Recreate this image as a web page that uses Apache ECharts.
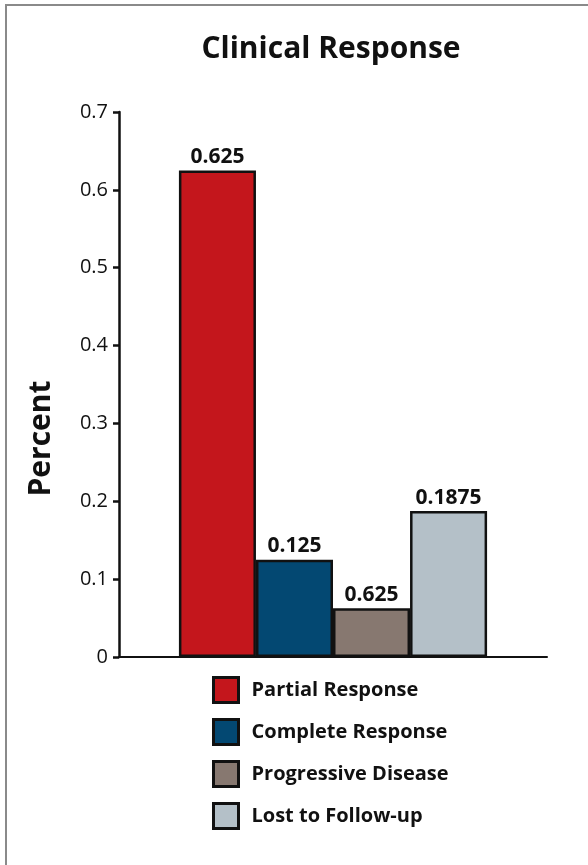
<!DOCTYPE html>
<html>
<head>
<meta charset="utf-8">
<script src="https://cdn.jsdelivr.net/npm/echarts@6/dist/echarts.min.js"></script>
<style>
  html, body { margin: 0; padding: 0; background: #fff; }
  #frame { position: absolute; left: 5px; top: 4px; width: 583px; height: 861px;
           border-left: 2px solid #8a8a8a; border-top: 2px solid #8a8a8a; box-sizing: border-box; }
  #chart { position: absolute; left: 0; top: 0; width: 588px; height: 865px; }
</style>
</head>
<body>
<div id="frame"></div>
<div id="chart"></div>
<script>
// Response categories, shares and the text printed above each bar
const categories = ['Partial Response', 'Complete Response', 'Progressive Disease', 'Lost to Follow-up'];
const values = [0.625, 0.125, 0.0625, 0.1875];
const valueLabels = ['0.625', '0.125', '0.625', '0.1875'];
const colors = ['#C4161C', '#034872', '#877870', '#B4C0C8'];
const yTicks = { min: 0, max: 0.7, interval: 0.1 };

const FONT = '"Open Sans", "Noto Sans", sans-serif';

const chart = echarts.init(document.getElementById('chart'), null, { renderer: 'canvas' });

const series = categories.map((name, i) => ({
  name: name,
  type: 'bar',
  data: [values[i]],
  barGap: '0%',
  barCategoryGap: '28%',
  itemStyle: { color: colors[i], borderColor: '#111', borderWidth: 2.5 },
  label: {
    show: true,
    position: 'top',
    distance: 3,
    formatter: () => valueLabels[i],
    color: '#111',
    fontFamily: FONT,
    fontWeight: 'bold',
    fontSize: 21
  },
  emphasis: { disabled: true },
  animation: false
}));

chart.setOption({
  backgroundColor: 'transparent',
  animation: false,
  title: {
    text: 'Clinical Response',
    left: 326,
    textAlign: 'center',
    top: 29,
    textStyle: { fontFamily: FONT, fontWeight: 'bold', fontSize: 30, color: '#111' }
  },
  legend: {
    orient: 'vertical',
    left: 207,
    top: 671,
    itemWidth: 25,
    itemHeight: 25,
    itemGap: 14,
    icon: 'rect',
    itemStyle: { borderColor: '#111', borderWidth: 3 },
    textStyle: { fontFamily: FONT, fontWeight: 'bold', fontSize: 20, color: '#111', padding: [0, 0, 0, 8] },
    data: categories
  },
  grid: { left: 119, right: 41, top: 112, bottom: 208, containLabel: false },
  xAxis: {
    type: 'category',
    data: [''],
    axisLine: { show: true, lineStyle: { color: '#111', width: 2 } },
    axisTick: { show: false },
    axisLabel: { show: false },
    splitLine: { show: false }
  },
  yAxis: {
    type: 'value',
    min: yTicks.min,
    max: yTicks.max,
    interval: yTicks.interval,
    name: 'Percent',
    nameLocation: 'middle',
    nameGap: 63,
    nameTextStyle: { fontFamily: FONT, fontWeight: 'bold', fontSize: 30, color: '#111', padding: [0, 108, 0, 0] },
    axisLine: { show: true, lineStyle: { color: '#111', width: 2.5 } },
    axisTick: { show: true, length: 6, lineStyle: { color: '#111', width: 2.5 } },
    axisLabel: { fontFamily: FONT, fontSize: 20, color: '#111', margin: 11 },
    splitLine: { show: false }
  },
  series: series
});
</script>
</body>
</html>
